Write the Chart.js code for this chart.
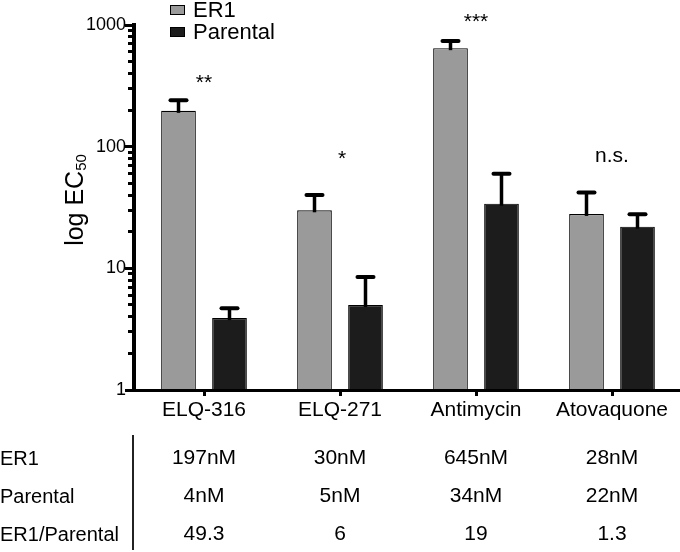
<!DOCTYPE html>
<html>
<head>
<meta charset="utf-8">
<script src="https://cdn.jsdelivr.net/npm/chart.js@4.4.1/dist/chart.umd.min.js"></script>
<style>
  body { margin: 0; background: #fff; font-family: "Liberation Sans", Arial, sans-serif; color: #000; }
  #wrap { position: relative; width: 680px; height: 552px; overflow: hidden; }
  #ec50Chart { position: absolute; left: 0; top: 0; }
  .box { position: absolute; left: 170px; width: 13px; height: 8px; border: 1px solid #000; }
  .legText { position: absolute; left: 193px; font-size: 22px; line-height: 22px; white-space: nowrap; }
  #yTitle { position: absolute; width: 200px; height: 30px; line-height: 30px; font-size: 25px;
            text-align: center; left: -26px; top: 185px; transform: rotate(-90deg); white-space: nowrap; }
  #yTitle sub { font-size: 15px; line-height: 0; vertical-align: -3px; }
  .rowLabel { position: absolute; left: 0; font-size: 20px; line-height: 24px; white-space: nowrap; }
  .cell { position: absolute; width: 120px; text-align: center; font-size: 21px; line-height: 24px; }
  .axisPart { position: absolute; background: #000; }
  #vline { position: absolute; left: 132px; top: 435px; width: 1.5px; height: 115px; background: #222; }
</style>
</head>
<body>
<div id="wrap">
  <canvas id="ec50Chart" width="680" height="552"></canvas>
  <div class="box" style="top:5px;background:#9a9a9a"></div>
  <div class="legText" style="top:-1px">ER1</div>
  <div class="box" style="top:27px;background:#1c1c1c"></div>
  <div class="legText" style="top:21px">Parental</div>
  <div id="yTitle">log EC<sub>50</sub></div>
  <div id="vline"></div>
  <div id="axes"></div>
  <div id="table"></div>
</div>
<script>
const categories = ["ELQ-316", "ELQ-271", "Antimycin", "Atovaquone"];
const er1Mean = [197, 30, 645, 28];
const parentalMean = [3.9, 5, 34, 22];
const er1Upper = [241, 40, 738, 42];
const parentalUpper = [4.7, 8.5, 60, 27.8];
const ratio = ["49.3", "6", "19", "1.3"];
const significance = ["**", "*", "***", "n.s."];
const significanceLevel = [300, 71, 952, 75];
const yTickLabels = [1, 10, 100, 1000];
const rowNames = ["ER1", "Parental", "ER1/Parental"];

// minor ticks 2..9 in every decade
const yTicks = [];
yTickLabels.forEach((d, i) => {
    yTicks.push(d);
    if (i < yTickLabels.length - 1) {
        for (let m = 2; m <= 9; m++) yTicks.push(m * d);
    }
});

Chart.defaults.font.family = '"Liberation Sans", Arial, sans-serif';
Chart.defaults.color = '#000';

// error bars (upper only) and the significance marks
const errorBars = {
    id: 'errorBars',
    afterDatasetsDraw(chart) {
        const ctx = chart.ctx;
        const yScale = chart.scales.y;
        const xScale = chart.scales.x;
        ctx.save();
        ctx.strokeStyle = '#000';
        chart.data.datasets.forEach((ds, i) => {
            chart.getDatasetMeta(i).data.forEach((bar, j) => {
                const yEnd = yScale.getPixelForValue(ds.upper[j]);
                ctx.lineWidth = 3.5;
                ctx.lineCap = 'butt';
                ctx.beginPath();
                ctx.moveTo(bar.x, bar.y + 2);
                ctx.lineTo(bar.x, yEnd);
                ctx.stroke();
                ctx.lineWidth = 4;
                ctx.lineCap = 'round';
                ctx.beginPath();
                ctx.moveTo(bar.x - 8, yEnd);
                ctx.lineTo(bar.x + 8, yEnd);
                ctx.stroke();
            });
        });
        ctx.fillStyle = '#000';
        ctx.font = '21px "Liberation Sans", Arial, sans-serif';
        ctx.textAlign = 'center';
        ctx.textBaseline = 'alphabetic';
        significance.forEach((s, j) => {
            ctx.fillText(s, xScale.getPixelForValue(j) + (s === '*' ? 2 : 0), yScale.getPixelForValue(significanceLevel[j]));
        });
        ctx.restore();
    }
};

const ctx = document.getElementById('ec50Chart').getContext('2d');
const chart = new Chart(ctx, {
    type: 'bar',
    data: {
        labels: categories,
        datasets: [{
            label: 'ER1',
            data: er1Mean,
            upper: er1Upper,
            backgroundColor: '#9a9a9a',
            borderColor: '#000',
            borderWidth: 1.2,
            categoryPercentage: 0.75,
            barPercentage: 0.68
        }, {
            label: 'Parental',
            data: parentalMean,
            upper: parentalUpper,
            backgroundColor: '#1c1c1c',
            borderColor: '#000',
            borderWidth: 1.2,
            categoryPercentage: 0.75,
            barPercentage: 0.68
        }]
    },
    options: {
        responsive: false,
        animation: false,
        layout: { padding: { left: 0, right: 0, top: 25, bottom: 122 } },
        plugins: { legend: { display: false }, tooltip: { enabled: false } },
        scales: {
            x: {
                grid: { display: false, tickLength: 6 },
                border: { display: false },
                ticks: { font: { size: 21 }, padding: 2, maxRotation: 0 },
                afterFit: s => { s.height = 40; }
            },
            y: {
                type: 'logarithmic',
                min: 1,
                max: 1000,
                grid: { display: false, tickLength: 5 },
                border: { display: false },
                ticks: {
                    autoSkip: false,
                    font: { size: 18 },
                    padding: 5,
                    callback: v => yTickLabels.includes(v) ? String(v) : ''
                },
                afterFit: s => { s.width = 136; }
            }
        }
    },
    plugins: [errorBars]
});

// axis lines and tick marks, placed with the chart's own scales
const axes = document.getElementById('axes');
const area = chart.chartArea;
function part(left, top, width, height) {
    const d = document.createElement('div');
    d.className = 'axisPart';
    d.style.left = left + 'px';
    d.style.top = top + 'px';
    d.style.width = width + 'px';
    d.style.height = height + 'px';
    axes.appendChild(d);
}
const axisX = area.left - 4;
part(axisX, area.top - 2, 4, area.bottom - area.top + 3.5);
yTicks.forEach(v => {
    const y = chart.scales.y.getPixelForValue(v);
    const len = yTickLabels.includes(v) ? 7 : 4;
    part(axisX - len, y - 1.5, len, 3);
});
part(axisX, area.bottom - 1.5, area.right - axisX, 3);
categories.forEach((c, j) => {
    const x = chart.scales.x.getPixelForValue(j);
    part(x - 1.5, area.bottom, 3, 6);
});

// table under the chart, columns at the category centres
const table = document.getElementById('table');
const rowCenters = [457, 495, 533];
const rows = [
    er1Mean.map(v => Math.round(v) + 'nM'),
    parentalMean.map(v => Math.round(v) + 'nM'),
    ratio
];
rows.forEach((cells, r) => {
    const lab = document.createElement('div');
    lab.className = 'rowLabel';
    lab.style.top = (rowCenters[r] - 11.5) + 'px';
    lab.textContent = rowNames[r];
    table.appendChild(lab);
    cells.forEach((txt, c) => {
        const d = document.createElement('div');
        d.className = 'cell';
        d.style.left = (chart.scales.x.getPixelForValue(c) - 60) + 'px';
        d.style.top = (rowCenters[r] - 12) + 'px';
        d.textContent = txt;
        table.appendChild(d);
    });
});
</script>
</body>
</html>
